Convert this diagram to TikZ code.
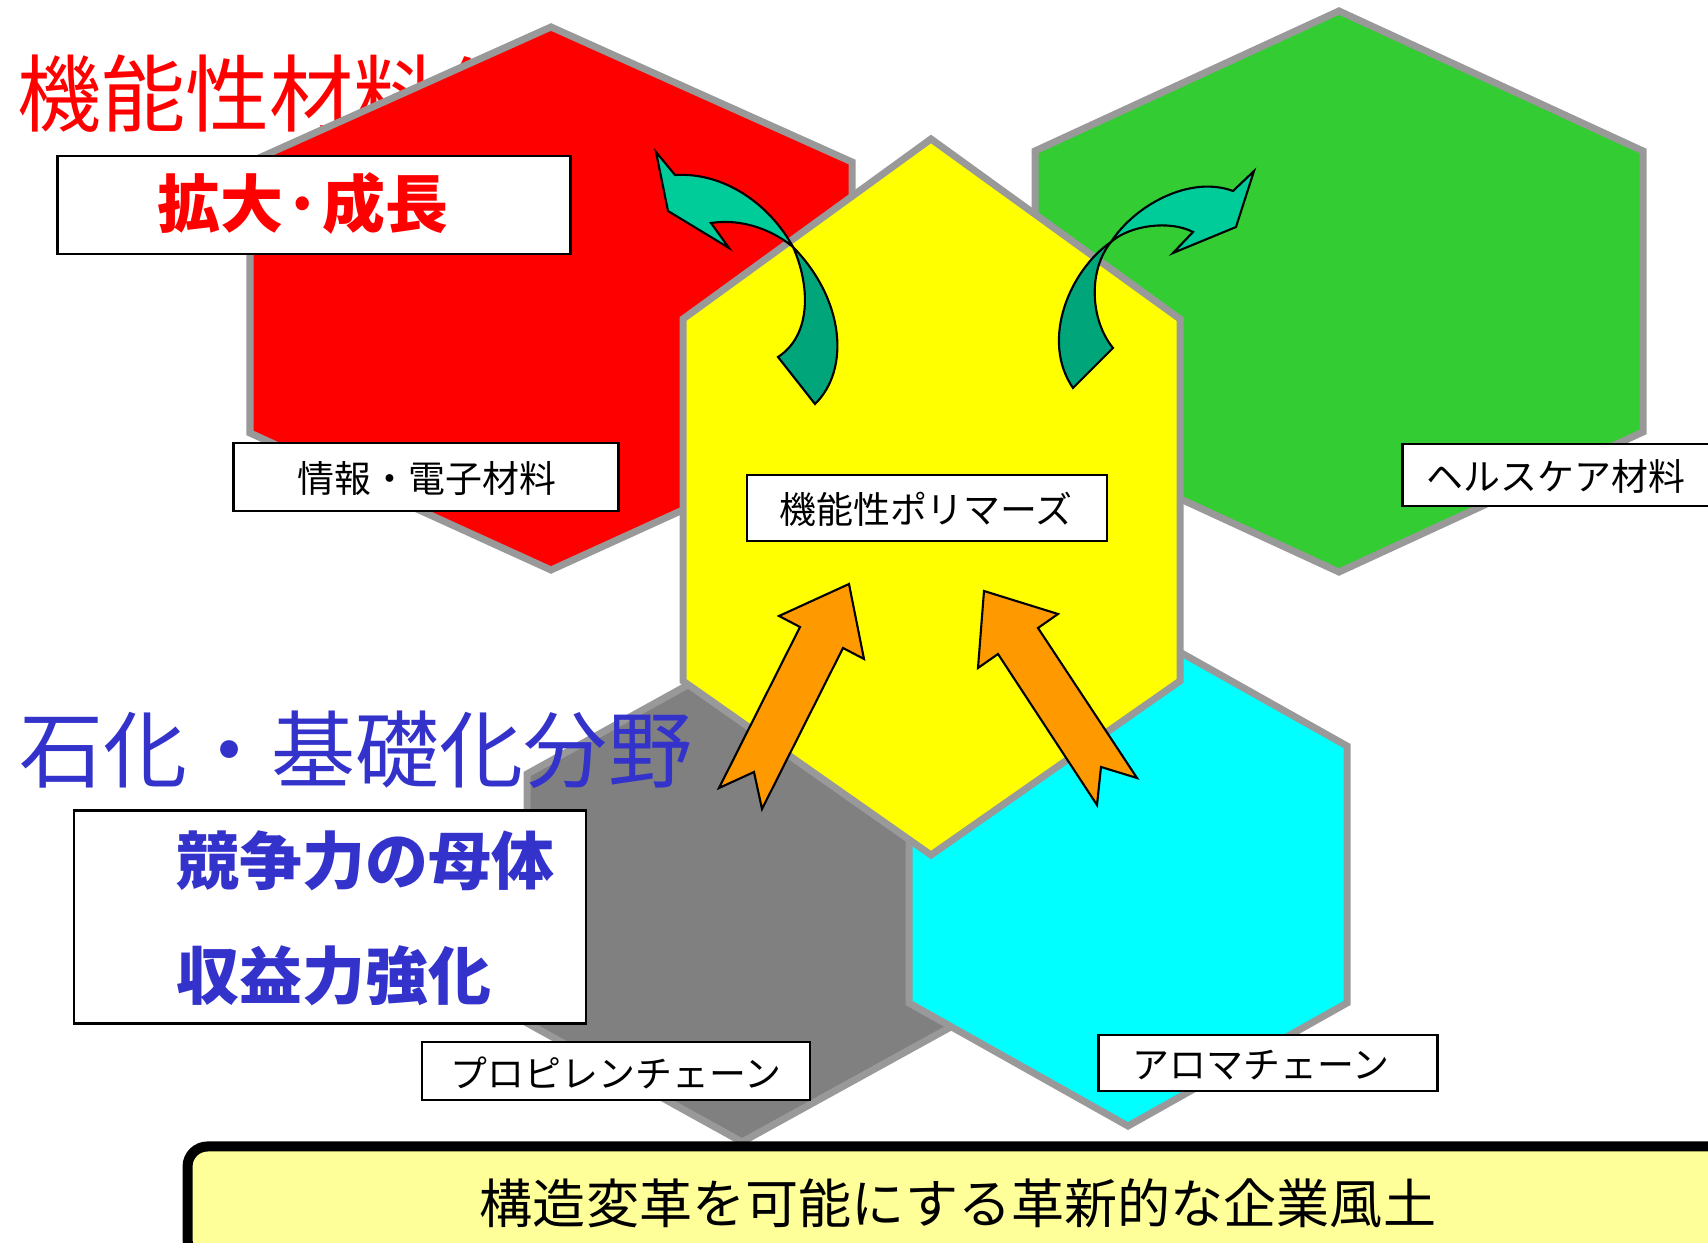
\documentclass[tikz,border=0pt]{standalone}
\usepackage{fontspec}
\setmainfont{Noto Sans CJK JP}
\usetikzlibrary{positioning}
\definecolor{hexrim}{RGB}{153,153,153}
\definecolor{hexred}{RGB}{255,0,0}
\definecolor{hexgreen}{RGB}{51,204,51}
\definecolor{hexyellow}{RGB}{255,255,0}
\definecolor{hexcyan}{RGB}{0,255,255}
\definecolor{hexgrey}{RGB}{128,128,128}
\definecolor{titleblue}{RGB}{51,51,204}
\definecolor{arroworange}{RGB}{255,153,0}
\definecolor{tealhead}{RGB}{0,204,153}
\definecolor{tealtail}{RGB}{0,165,122}
\definecolor{barfill}{RGB}{255,255,153}
\begin{document}
\begin{tikzpicture}[x=0.01cm,y=-0.01cm,
	hexcell/.style={draw=hexrim,line width=0.07cm,line join=miter},
	tagbox/.style={draw,fill=white,line width=0.7pt,inner sep=0pt},
	tagtext/.style={inner sep=0pt,font=\fontsize{10.5pt}{12pt}\selectfont},
	bigtitle/.style={inner sep=0pt,anchor=west,font=\fontsize{23.9pt}{28pt}\selectfont},
	boldtext/.style={inner sep=0pt,font=\fontsize{17.9pt}{21pt}\selectfont\bfseries},
	blockarrow/.style={draw,fill=arroworange,line width=0.6pt,line join=miter},
	twistarrow/.style={draw,line width=0.6pt,line join=miter}]
	\clip (0,0) rectangle (1708,1243);
	% title under the red cell
	\node[bigtitle,text=hexred] (titlefunc) at (17,94) {機能性材料分野};
	% hexagon cells
	\draw[hexcell,fill=hexgrey] (742,655) -- (958,774) -- (958,1023) -- (742,1142) -- (527,1023) -- (527,774) -- cycle;
	\draw[hexcell,fill=hexcyan] (1128,623) -- (1347,746) -- (1347,1003) -- (1128,1126) -- (909,1003) -- (909,746) -- cycle;
	\draw[hexcell,fill=hexred] (551,27) -- (852,162) -- (852,433) -- (551,570) -- (250,433) -- (250,162) -- cycle;
	\draw[hexcell,fill=hexgreen] (1339,11) -- (1643,151) -- (1643,432) -- (1339,572) -- (1035,432) -- (1035,151) -- cycle;
	\draw[hexcell,fill=hexyellow] (931,139) -- (1180,319) -- (1180,681) -- (931,855) -- (683,681) -- (683,319) -- cycle;
	\node[bigtitle,text=titleblue] (titlebase) at (19,750) {石化・基礎化分野};
	% boxes
	\node[tagbox,minimum width=5.13cm,minimum height=0.98cm] (growbox) at (314,205) {};
	\node[boldtext,text=hexred] (grow) at (303,204) {拡大·成長};
	\node[tagbox,minimum width=5.12cm,minimum height=2.13cm] (compbox) at (330,917) {};
	\node[boldtext,text=titleblue,anchor=west] (comp) at (176,861) {競争力の母体};
	\node[boldtext,text=titleblue,anchor=west] (profit) at (176,976) {収益力強化};
	\node[tagbox,minimum width=3.85cm,minimum height=0.68cm] (infobox) at (426,477) {};
	\node[tagtext] (info) at (427,479) {情報・電子材料};
	\node[tagbox,minimum width=3.60cm,minimum height=0.66cm] (polybox) at (927,508) {};
	\node[tagtext] (poly) at (926,509) {機能性ポリマーズ};
	\node[tagbox,minimum width=3.09cm,minimum height=0.62cm] (healthbox) at (1557,475) {};
	\node[tagtext] (health) at (1556,476) {ヘルスケア材料};
	\node[tagbox,minimum width=3.88cm,minimum height=0.58cm] (propbox) at (616,1071) {};
	\node[tagtext] (prop) at (616,1073) {プロピレンチェーン};
	\node[tagbox,minimum width=3.39cm,minimum height=0.56cm] (aromabox) at (1268,1063) {};
	\node[tagtext] (aroma) at (1261,1065) {アロマチェーン};
	% straight arrows into the polymer cell
	\draw[blockarrow] (849,584) -- (864,659) -- (843,648) -- (762,809) -- (754,772) -- (719,788) -- (800,627) -- (779,616) -- cycle;
	\draw[blockarrow] (984,591) -- (1058,614) -- (1038,628) -- (1137,778) -- (1101,767) -- (1097,805) -- (998,654) -- (978,668) -- cycle;
	% curved arrows out of it
	\draw[twistarrow,fill=tealtail] (793,247) .. controls (810,285) and (812,335) .. (778,357) -- (815,404) .. controls (850,370) and (845,300) .. (793,247) -- cycle;
	\draw[twistarrow,fill=tealhead] (656,152) -- (668,211) -- (729,248) -- (711,223) .. controls (745,218) and (775,232) .. (793,247) .. controls (770,205) and (725,172) .. (675,175) -- cycle;
	\draw[twistarrow,fill=tealtail] (1111,242) .. controls (1070,270) and (1040,340) .. (1073,388) -- (1113,348) .. controls (1090,320) and (1088,270) .. (1111,242) -- cycle;
	\draw[twistarrow,fill=tealhead] (1254,171) -- (1236,227) -- (1173,253) -- (1193,232) .. controls (1170,220) and (1130,225) .. (1111,242) .. controls (1135,205) and (1190,175) .. (1233,191) -- cycle;
	% bottom bar
	\node[draw,fill=barfill,line width=0.1cm,rounded corners=0.2cm,minimum width=15.4cm,minimum height=1.13cm,
		font=\fontsize{15.1pt}{18pt}\selectfont] (culture) at (958,1203) {構造変革を可能にする革新的な企業風土};
\end{tikzpicture}
\end{document}
